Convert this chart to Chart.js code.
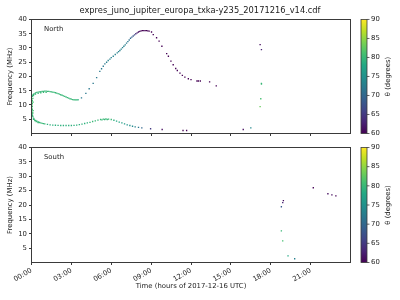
<!DOCTYPE html>
<html><head><meta charset="utf-8">
<script src="https://cdn.jsdelivr.net/npm/chart.js@4/dist/chart.umd.min.js"></script>
<style>
body{margin:0;background:#fff;width:400px;height:300px;overflow:hidden;position:relative}
canvas{position:absolute;left:0}
</style>
</head><body>
<canvas id="c1" width="400" height="140" style="top:0"></canvas>
<canvas id="c2" width="400" height="160" style="top:140px"></canvas>
<script>
// ---- data (hours of day, frequency MHz, theta degrees) ----
const northHours = [
 0.02,0.05,0.02,0.06,0.02,0.06,0.02,0.06,0.02,0.06,0.02,0.10,0.10,0.12,0.12,
 0.06,0.10,0.15,0.20,0.30,0.40,0.50,0.60,0.70,0.80,0.90,1.00,1.10,1.20,1.30,1.40,1.50,1.60,1.70,1.80,1.90,2.00,2.10,2.20,2.30,2.40,2.50,2.60,2.70,2.80,2.90,3.00,3.10,3.20,3.30,3.40,3.50,
 0.15,0.30,0.50,0.70,0.90,1.10,
 0.05,0.08,0.10,0.15,0.20,0.30,0.40,0.50,0.60,0.70,0.80,0.90,1.00,1.20,1.40,1.60,1.80,2.00,2.20,2.40,2.60,2.80,3.00,3.20,3.40,3.60,3.80,4.00,4.20,4.40,4.60,4.80,5.00,5.20,5.40,5.60,5.80,6.00,6.20,6.40,6.60,6.80,7.00,7.20,7.40,7.60,7.80,8.05,8.30,8.96,9.83,11.40,11.67,15.93,16.50,
 0.15,0.25,0.35,0.50,5.30,5.50,5.70,
 3.76,4.09,4.34,4.64,4.90,5.14,5.27,5.40,5.52,5.65,5.77,5.90,6.00,6.15,6.30,6.45,6.55,6.65,6.75,6.85,6.95,7.05,7.15,7.25,7.35,7.45,7.55,7.65,7.75,7.85,7.95,8.05,8.15,8.25,8.35,8.45,8.55,8.65,8.75,8.85,9.03,
 9.16,9.41,9.60,9.81,10.17,10.30,10.49,10.66,10.85,10.97,11.17,11.35,11.54,11.80,12.00,12.45,12.55,12.70,13.40,13.90,
 17.20,17.30,17.30,17.30,17.25,17.20
];
const northFreq = [
 7.0,7.5,8.0,8.5,9.0,9.5,10.0,10.5,11.0,11.5,12.0,7.2,12.3,8.0,11.0,
 13.0,13.4,13.7,13.9,14.2,14.4,14.5,14.6,14.7,14.75,14.8,14.85,14.85,14.8,14.75,14.7,14.6,14.5,14.4,14.3,14.15,14.0,13.8,13.6,13.4,13.2,13.0,12.8,12.6,12.4,12.2,12.05,11.9,11.85,11.8,11.8,11.85,
 13.3,13.8,14.1,14.3,14.4,14.45,
 6.8,6.3,5.9,5.4,5.0,4.6,4.3,4.05,3.85,3.7,3.55,3.45,3.35,3.2,3.05,2.95,2.9,2.85,2.8,2.8,2.8,2.8,2.8,2.85,2.95,3.1,3.3,3.5,3.7,3.9,4.2,4.45,4.7,4.9,5.05,5.1,5.05,4.9,4.65,4.35,4.0,3.7,3.35,3.05,2.8,2.55,2.35,2.15,2.0,1.65,1.4,1.05,1.05,1.4,2.0,
 5.0,4.5,4.2,3.85,4.8,4.9,4.9,
 12.5,14.1,15.7,17.6,19.6,21.8,22.7,23.6,24.4,25.0,25.6,26.1,26.6,27.1,27.7,28.3,28.7,29.1,29.6,30.1,30.6,31.1,31.7,32.2,32.8,33.4,33.8,34.2,34.6,35.0,35.3,35.6,35.8,36.0,36.1,36.1,36.1,36.1,36.0,35.9,35.6,
 34.7,33.6,32.4,30.6,28.0,27.1,25.4,24.1,22.8,22.1,21.2,20.4,19.8,19.2,18.9,18.4,18.4,18.4,18.1,16.7,
 31.2,29.4,17.6,17.3,12.2,9.4
];
const northTheta = [
 81,81,81,81,81,81,81,81,81,81,81,81,81,81,81,
 80,80,80,80,80,80,80,80,80,80,80,80,80,80,80,80,80,80,80,80,80,80,80,80,80,80,80,80,80,80,80,80,80,80,80,80,79,
 80,80,80,80,80,80,
 80,80,80,80,80,80,80,80,80,80,80,80,80,79,79,79,79,79,79,79,79,79,79,79,79,79,79,79,79,80,80,80,80,80,80,80,80,80,79,78,78,77,76,75,75,74,73,72,70,65,61,60,60,61,74,
 80,80,80,80,80,80,80,
 72,72,72,72,72,72,72,72,72,73,73,73,73,73,73,73,73,73,73,73,73,73,72,72,71,70,69,68,66,64,62,61,60,60,60,60,60,60,60,60,60,
 60,60,60,60,60,60,60,60,60,60,60,60,60,60,60,60,60,60,60,60,
 61,63,80,80,81,83
];
const southHours = [21.2,22.3,22.6,22.9,18.95,18.9,18.8,18.8,18.9,19.3,19.8];
const southFreq  = [26.0,23.9,23.5,23.2,21.5,20.8,19.4,11.0,7.5,2.3,1.3];
const southTheta = [60,61,61,60,61,63,68,80,81,78,73];

const xTickHours = [0,3,6,9,12,15,18,21];
const yTickFreq  = [5,10,15,20,25,30,35,40];
const cbTicks    = [60,65,70,75,80,85,90];
const thetaMin = 60, thetaMax = 90;
const figTitle = 'expres_juno_jupiter_europa_txka-y235_20171216_v14.cdf';

// ---- viridis colormap ----
const VIR = ['#440154','#482475','#414487','#355f8d','#2a788e','#21918c','#22a884','#44bf70','#7ad151','#bddf26','#fde725'];
function hx(h){return [parseInt(h.slice(1,3),16),parseInt(h.slice(3,5),16),parseInt(h.slice(5,7),16)];}
function viridis(t){
  t=Math.max(0,Math.min(1,t)); const p=t*10; const i=Math.min(9,Math.floor(p)); const f=p-i;
  const a=hx(VIR[i]), b=hx(VIR[i+1]);
  return 'rgb('+a.map((v,k)=>Math.round(v+(b[k]-v)*f)).join(',')+')';
}
function thetaColor(th){return viridis((th-thetaMin)/(thetaMax-thetaMin));}

Chart.defaults.font.family = "'DejaVu Sans', sans-serif";
Chart.defaults.font.size = 6.9;
Chart.defaults.color = '#222';
Chart.defaults.animation = false;

const FONT = "6.9px 'DejaVu Sans', sans-serif";

const decor = {
  id:'decor',
  afterDraw(chart, args, opts){
    const ctx = chart.ctx, a = chart.chartArea;
    ctx.save();
    // frame
    ctx.strokeStyle = '#3a3a3a'; ctx.lineWidth = 1;
    ctx.strokeRect(Math.floor(a.left)+0.5, Math.floor(a.top)+0.5, Math.floor(a.right)-Math.floor(a.left), Math.floor(a.bottom)-Math.floor(a.top));
    // panel label
    ctx.fillStyle = '#222'; ctx.font = FONT; ctx.textBaseline = 'middle'; ctx.textAlign = 'left';
    ctx.fillText(opts.label, a.left + 12.5, a.top + 10);
    // colorbar
    const cb = chart.scales.cb;
    const yTop = cb.getPixelForValue(thetaMax), yBot = cb.getPixelForValue(thetaMin);
    const g = ctx.createLinearGradient(0, yBot, 0, yTop);
    VIR.forEach((c,i)=>g.addColorStop(i/10, c));
    const x0 = 361, w = 6;
    ctx.fillStyle = g;
    ctx.fillRect(x0, yTop, w, yBot - yTop);
    ctx.strokeStyle = '#3a3a3a'; ctx.lineWidth = 0.8;
    ctx.strokeRect(x0, yTop, w, yBot - yTop);
    ctx.beginPath();
    cb.ticks.forEach(t=>{ const y = cb.getPixelForValue(t.value); ctx.moveTo(x0+w, y); ctx.lineTo(x0+w+2.5, y); });
    ctx.stroke();
    // colorbar label
    ctx.translate(388, (yTop + yBot)/2);
    ctx.rotate(-Math.PI/2);
    ctx.fillStyle = '#222'; ctx.textAlign = 'center'; ctx.textBaseline = 'middle';
    ctx.fillText('\u03b8 (degrees)', 0, 0);
    ctx.restore();
  }
};

function pad2(v){return (v<10?'0':'')+v+':00';}

function makeChart(id, hours, freq, theta, label, isBottom){
  const pts = hours.map((h,i)=>({x:h, y:freq[i]}));
  const cols = theta.map(thetaColor);
  return new Chart(document.getElementById(id), {
    type:'scatter',
    data:{datasets:[{data:pts, pointStyle:'rect', pointRadius:0.95, pointBorderWidth:0,
      pointBackgroundColor:cols, pointBorderColor:cols}]},
    options:{
      responsive:false,
      layout:{padding:{top: isBottom ? 7.5 : 0, left:0, right:0, bottom:0}},
      plugins:{
        legend:{display:false}, tooltip:{enabled:false},
        title:{display:!isBottom, text:figTitle, font:{size:8.3, weight:'normal'}, color:'#222', padding:{top:5.5, bottom:4}},
        decor:{label:label}
      },
      scales:{
        x:{type:'linear', position:'bottom', min:0, max:24,
          afterBuildTicks:s=>{s.ticks = xTickHours.map(v=>({value:v}));},
          afterFit:s=>{s.height = isBottom ? 37.5 : 6.5;},
          ticks:{display:isBottom, autoSkip:false, minRotation:30, maxRotation:30, padding:1.5, callback:v=>pad2(v)},
          grid:{display:true, drawOnChartArea:false, drawTicks:true, tickLength:2.5, tickColor:'#3a3a3a', tickWidth:1},
          border:{display:false},
          title:{display:isBottom, text:'Time (hours of 2017-12-16 UTC)', padding:{top:0, bottom:9.4}}
        },
        y:{type:'linear', position:'left', min:0, max:40,
          afterBuildTicks:s=>{s.ticks = yTickFreq.map(v=>({value:v}));},
          afterFit:s=>{s.width = 31.5;},
          ticks:{padding:2},
          grid:{display:true, drawOnChartArea:false, drawTicks:true, tickLength:2.5, tickColor:'#3a3a3a', tickWidth:1},
          border:{display:false},
          title:{display:true, text:'Frequency (MHz)', padding:{top:5.6, bottom:0}}
        },
        cb:{type:'linear', position:'right', min:thetaMin, max:thetaMax,
          afterBuildTicks:s=>{s.ticks = cbTicks.map(v=>({value:v}));},
          afterFit:s=>{s.width = 49.5;},
          ticks:{padding:2},
          grid:{display:true, drawOnChartArea:false, drawTicks:true, tickLength:18.5, tickColor:'rgba(0,0,0,0)'},
          border:{display:false}
        }
      }
    },
    plugins:[decor]
  });
}

makeChart('c1', northHours, northFreq, northTheta, 'North', false);
makeChart('c2', southHours, southFreq, southTheta, 'South', true);
</script>
</body></html>
